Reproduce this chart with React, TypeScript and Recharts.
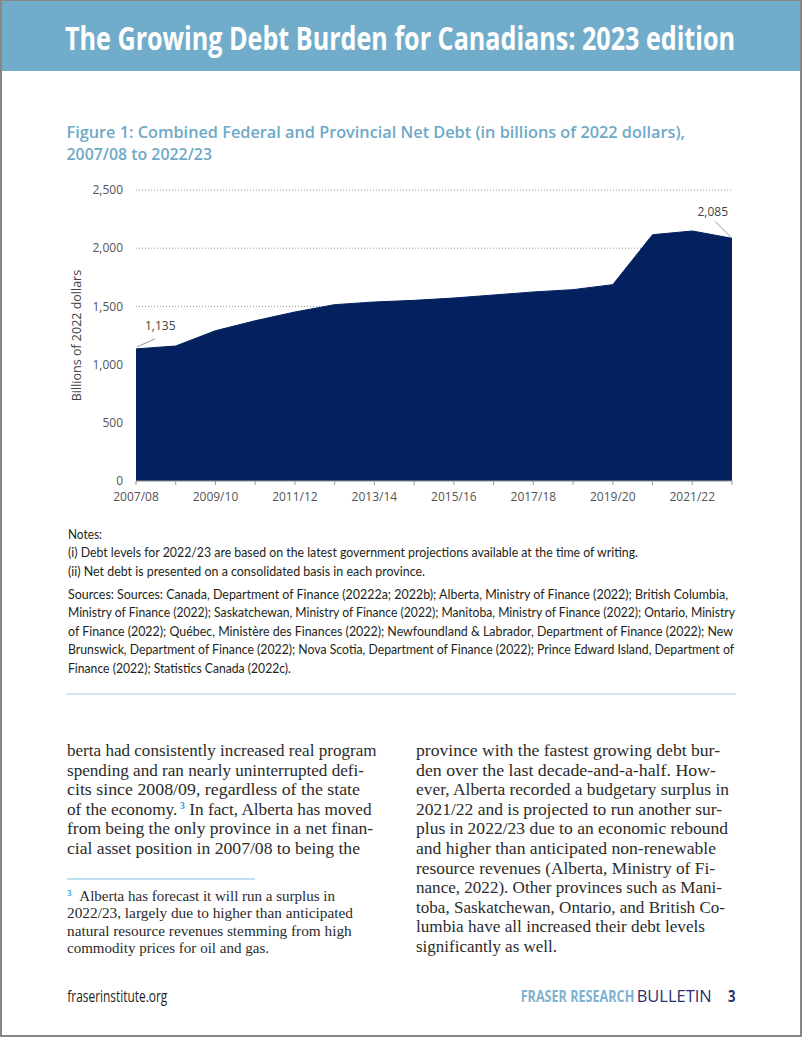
import React from "react";
import { AreaChart, Area, XAxis, YAxis, CartesianGrid } from "recharts";

// fiscal years on the x axis
const years = [
  "2007/08", "2008/09", "2009/10", "2010/11", "2011/12", "2012/13", "2013/14", "2014/15",
  "2015/16", "2016/17", "2017/18", "2018/19", "2019/20", "2020/21", "2021/22", "2022/23",
];
// combined federal + provincial net debt, billions of 2022 dollars
const netDebt = [1135, 1160, 1291, 1377, 1452, 1515, 1538, 1552, 1572, 1598, 1624, 1644, 1687, 2116, 2148, 2085];
const yTicks = [0, 500, 1000, 1500, 2000, 2500];

const data = years.map((year, i) => ({ year, debt: netDebt[i] }));

const NAVY = "#03215e";
const LIGHT_BLUE = "#6ea9c8";
const fmt = (v: number) => v.toLocaleString("en-US");

const leftCol = [
  { t: "berta had consistently increased real program", w: 309.5 },
  { t: "spending and ran nearly uninterrupted defi-", w: 297 },
  { t: "cits since 2008/09, regardless of the state", w: 293 },
  { t: "of the economy.", w: 304.5, sup: true },
  { t: "from being the only province in a net finan-", w: 306 },
  { t: "cial asset position in 2007/08 to being the", w: 293 },
];

const rightCol = [
  { t: "province with the fastest growing debt bur-", w: 304 },
  { t: "den over the last decade-and-a-half. How-", w: 300 },
  { t: "ever, Alberta recorded a budgetary surplus in", w: 313 },
  { t: "2021/22 and is projected to run another sur-", w: 306 },
  { t: "plus in 2022/23 due to an economic rebound", w: 312 },
  { t: "and higher than anticipated non-renewable", w: 300 },
  { t: "resource revenues (Alberta, Ministry of Fi-", w: 299 },
  { t: "nance, 2022). Other provinces such as Mani-", w: 306 },
  { t: "toba, Saskatchewan, Ontario, and British Co-", w: 309 },
  { t: "lumbia have all increased their debt levels", w: 289 },
  { t: "significantly as well.", w: 141 },
];

const notes = [
  { t: "Notes:", w: 34, y: 539 },
  { t: "(i) Debt levels for 2022/23 are based on the latest government projections available at the time of writing.", w: 570, y: 557.3 },
  { t: "(ii) Net debt is presented on a consolidated basis in each province.", w: 357, y: 575.6 },
  { t: "Sources:  Sources: Canada, Department of Finance (20222a; 2022b); Alberta, Ministry of Finance (2022); British Columbia,", w: 660, y: 598.5 },
  { t: "Ministry of Finance (2022); Saskatchewan, Ministry of Finance (2022); Manitoba, Ministry of Finance (2022); Ontario, Ministry", w: 667, y: 617 },
  { t: "of Finance (2022); Québec, Ministère des Finances (2022); Newfoundland & Labrador, Department of Finance (2022); New", w: 665, y: 635.5 },
  { t: "Brunswick, Department of Finance (2022); Nova Scotia, Department of Finance (2022); Prince Edward Island, Department of", w: 666, y: 654 },
  { t: "Finance (2022); Statistics Canada (2022c).", w: 223, y: 672.5 },
];

const footnote = [
  { t: "2022/23, largely due to higher than anticipated", w: 286 },
  { t: "natural resource revenues stemming from high", w: 284.7 },
  { t: "commodity prices for oil and gas.", w: 202 },
];

const SERIF = "'Liberation Serif', 'DejaVu Serif', serif";
const SANS = "'Open Sans', 'Noto Sans', sans-serif";

function PointLabel(props: any) {
  const { x, y, value, index } = props;
  if (index === 0) {
    return (
      <g>
        <line x1={x + 1} y1={y - 2} x2={x + 19} y2={y - 10} stroke="#9a9a9a" />
        <text x={x + 9} y={y - 19} fontSize={12} fontFamily={SANS} fill="#444">{fmt(value)}</text>
      </g>
    );
  }
  if (index === netDebt.length - 1) {
    return (
      <g>
        <line x1={x - 1} y1={y - 1} x2={x - 17} y2={y - 17} stroke="#9a9a9a" />
        <text x={x - 4} y={y - 22} fontSize={12} fontFamily={SANS} fill="#444" textAnchor="end">{fmt(value)}</text>
      </g>
    );
  }
  return <g />;
}

function YTitle(props: any) {
  const vb = props.viewBox || { x: 0, y: 190, width: 136, height: 291 };
  const cy = vb.y + vb.height / 2;
  return (
    <text x={81} y={cy} transform={`rotate(-90 81 ${cy})`} textAnchor="middle" fontSize={12.5} fontFamily={SANS} fill="#444">
      Billions of 2022 dollars
    </text>
  );
}

function Line({ x, y, w, size, family, weight, fill, children }: any) {
  return (
    <text x={x} y={y} textLength={w} lengthAdjust="spacingAndGlyphs" fontSize={size} fontFamily={family} fontWeight={weight || 400} fill={fill}>
      {children}
    </text>
  );
}

export default function App() {
  return (
    <div style={{ position: "absolute", left: 0, top: 0, width: 802, height: 1037, background: "#fff", overflow: "hidden" }}>
      <div style={{ position: "absolute", left: 0, top: 0, width: 802, height: 71, background: "#71adcb" }} />
      <svg width={802} height={1037} style={{ position: "absolute", left: 0, top: 0 }}>
        <Line x={65} y={49.5} w={670} size={32} family={SANS} weight={700} fill="#fff">
          The Growing Debt Burden for Canadians: 2023 edition
        </Line>
        <Line x={66.5} y={137.5} w={618.5} size={17} family={SANS} weight={600} fill={LIGHT_BLUE}>
          Figure 1: Combined Federal and Provincial Net Debt (in billions of 2022 dollars),
        </Line>
        <Line x={66.5} y={160} w={145.5} size={17} family={SANS} weight={600} fill={LIGHT_BLUE}>
          2007/08 to 2022/23
        </Line>

        {notes.map((n, i) => (
          <Line key={i} x={68} y={n.y} w={n.w} size={12.5} family="Lato, sans-serif" fill="#231f20">{n.t}</Line>
        ))}
        <line x1={66} y1={694} x2={736} y2={694} stroke="#a9cfe2" strokeWidth={1} />

        {leftCol.map((l, i) => (
          <text key={i} x={67} y={756 + 19.6 * i} textLength={l.w} lengthAdjust="spacingAndGlyphs" fontSize={17} fontFamily={SERIF} fill="#2b2b2b">
            {l.t}
            {l.sup ? (
              <>
                <tspan fontSize={10} dy={-6} fill="#2aa7df" fontWeight={700}> 3</tspan>
                <tspan dy={6}> In fact, Alberta has moved</tspan>
              </>
            ) : null}
          </text>
        ))}
        {rightCol.map((l, i) => (
          <text key={i} x={416} y={756 + 19.6 * i} textLength={l.w} lengthAdjust="spacingAndGlyphs" fontSize={17} fontFamily={SERIF} fill="#2b2b2b">
            {l.t}
          </text>
        ))}

        <line x1={67} y1={879} x2={255} y2={879} stroke="#7cc3e5" strokeWidth={1} />
        <text x={67} y={896} fontSize={9} fontFamily={SERIF} fontWeight={700} fill="#2aa7df">3</text>
        <Line x={79.3} y={901} w={255.7} size={14} family={SERIF} fill="#2b2b2b">Alberta has forecast it will run a surplus in</Line>
        {footnote.map((l, i) => (
          <Line key={i} x={67} y={918.3 + 17.3 * i} w={l.w} size={14} family={SERIF} fill="#2b2b2b">{l.t}</Line>
        ))}

        <Line x={67.3} y={1001.7} w={100} size={17} family={SANS} fill="#231f20">fraserinstitute.org</Line>
        <Line x={520.7} y={1001.7} w={113.6} size={16.5} family={SANS} weight={700} fill="#7fb2d0">FRASER RESEARCH</Line>
        <Line x={636.7} y={1001.7} w={75} size={16.5} family={SANS} fill="#2b2f6b">BULLETIN</Line>
        <Line x={728} y={1001.7} w={7.5} size={16.5} family={SANS} weight={700} fill="#2b2f6b">3</Line>
      </svg>

      <div style={{ position: "absolute", left: 0, top: 180 }}>
        <AreaChart width={802} height={340} data={data} margin={{ top: 10, right: 70, bottom: 0, left: 0 }}>
          <CartesianGrid vertical={false} stroke="#9a9a9a" strokeDasharray="1 2" />
          <XAxis
            dataKey="year"
            interval={0}
            height={39}
            tickSize={4}
            tickMargin={7}
            tickFormatter={(v: string, i: number) => (i % 2 === 0 ? v : "")}
            axisLine={{ stroke: "#9a9a9a" }}
            tickLine={{ stroke: "#9a9a9a" }}
            tick={{ fontSize: 12, fontFamily: SANS, fill: "#555" }}
          />
          <YAxis
            width={136}
            domain={[0, 2500]}
            ticks={yTicks}
            tickFormatter={(v: number) => fmt(v)}
            axisLine={false}
            tickLine={false}
            tickSize={0}
            tickMargin={13}
            tick={{ fontSize: 12, fontFamily: SANS, fill: "#555" }}
            label={(p: any) => <YTitle {...p} />}
          />
          <Area
            type="linear"
            dataKey="debt"
            stroke={NAVY}
            strokeWidth={1}
            fill={NAVY}
            fillOpacity={1}
            isAnimationActive={false}
            label={(p: any) => <PointLabel {...p} />}
          />
        </AreaChart>
      </div>

      <div
        style={{
          position: "absolute", left: 0, top: 0, width: 802, height: 1037, boxSizing: "border-box",
          borderStyle: "solid", borderColor: "#878787", borderWidth: "1px 2px 2px 2px", pointerEvents: "none",
        }}
      />
    </div>
  );
}
